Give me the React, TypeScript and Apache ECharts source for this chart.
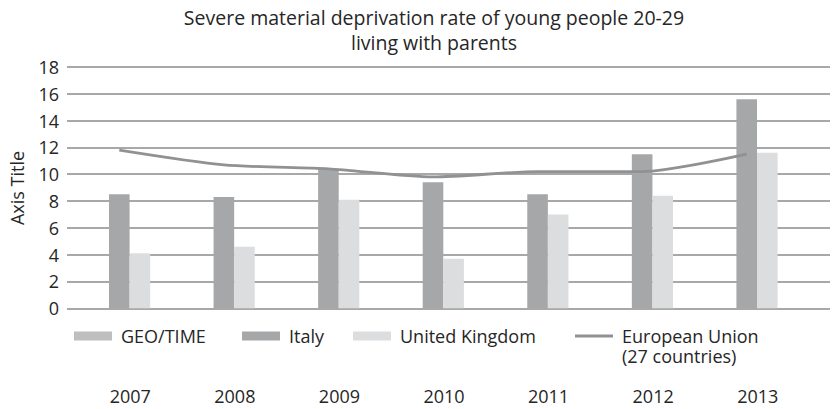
import React, { useEffect, useRef } from "react";
import * as echarts from "echarts";

const years = ["2007", "2008", "2009", "2010", "2011", "2012", "2013"];
const geoTime: (number | null)[] = [null, null, null, null, null, null, null];
const italy = [8.5, 8.3, 10.4, 9.4, 8.5, 11.5, 15.6];
const unitedKingdom = [4.1, 4.6, 8.1, 3.7, 7.0, 8.4, 11.6];
const europeanUnion = [11.8, 10.7, 10.4, 9.8, 10.2, 10.2, 11.5];

const EU_NAME = "European Union (27 countries)";
const FONT = "Open Sans";
const TEXT = "#262626";

const legendText = { fontFamily: FONT, fontSize: 18, color: TEXT, lineHeight: 20, padding: [0, 0, 0, 4] };

// One legend component per entry so each sits at its own x position
const legendAt = (left: number, name: string, extra: Record<string, unknown> = {}) => ({
  left,
  top: 321,
  itemWidth: 38,
  itemHeight: 9,
  icon: "rect",
  textStyle: legendText,
  data: [name],
  ...extra,
});

export default function App() {
  const ref = useRef<HTMLDivElement>(null);

  useEffect(() => {
    if (!ref.current) return;
    const chart = echarts.init(ref.current, undefined, { renderer: "svg" });
    chart.setOption({
      animation: false,
      backgroundColor: "#ffffff",
      textStyle: { fontFamily: FONT, color: TEXT },
      title: {
        text: "Severe material deprivation rate of young people 20-29\nliving with parents",
        left: 429,
        textAlign: "center",
        top: -0.5,
        textStyle: { fontFamily: FONT, fontSize: 19.5, fontWeight: "normal", color: TEXT, lineHeight: 25 },
      },
      legend: [
        legendAt(69, "GEO/TIME"),
        legendAt(237, "Italy"),
        legendAt(348, "United Kingdom"),
        legendAt(570, EU_NAME, {
          top: 301,
          itemHeight: 3,
          // leading blank line keeps the first text line level with the line icon
          formatter: () => " \nEuropean Union\n(27 countries)",
        }),
      ],
      graphic: [
        {
          type: "text",
          x: 17,
          y: 188,
          rotation: Math.PI / 2,
          style: {
            text: "Axis Title",
            fontFamily: FONT,
            fontSize: 18,
            fill: TEXT,
            align: "center",
            verticalAlign: "middle",
          },
        },
      ],
      grid: [
        { left: 67, right: 34, top: 67, bottom: 100.7 },
        { left: 67, right: 3, top: 67, bottom: 100.7 },
      ],
      xAxis: [
        {
          type: "category",
          gridIndex: 0,
          data: years,
          axisLine: { show: false },
          axisTick: { show: false },
          axisLabel: {
            margin: 79,
            fontFamily: FONT,
            fontSize: 18,
            color: TEXT,
            padding: [0, 0, 0, 22],
          },
        },
        { type: "value", gridIndex: 1, min: 0, max: 1, show: false },
      ],
      yAxis: [
        {
          type: "value",
          gridIndex: 0,
          min: 0,
          max: 18,
          interval: 2,
          axisLine: { show: false },
          axisTick: { show: false },
          splitLine: { show: false },
          axisLabel: { margin: 8, fontFamily: FONT, fontSize: 18, color: TEXT },
        },
        {
          type: "value",
          gridIndex: 1,
          min: 0,
          max: 18,
          interval: 2,
          axisLine: { show: false },
          axisTick: { show: false },
          axisLabel: { show: false },
          splitLine: { show: true, lineStyle: { color: "#a8a8a8", width: 1.8 } },
        },
      ],
      series: [
        {
          name: "GEO/TIME",
          type: "bar",
          data: geoTime,
          barWidth: 20.6,
          barGap: "0%",
          itemStyle: { color: "#bdbec0" },
        },
        {
          name: "Italy",
          type: "bar",
          data: italy,
          barWidth: 20.6,
          barGap: "0%",
          itemStyle: { color: "#a6a7a9" },
        },
        {
          name: "United Kingdom",
          type: "bar",
          data: unitedKingdom,
          barWidth: 20.6,
          barGap: "0%",
          itemStyle: { color: "#dcdddf" },
        },
        {
          name: EU_NAME,
          type: "line",
          data: europeanUnion,
          smooth: 0.25,
          showSymbol: false,
          symbol: "none",
          lineStyle: { color: "#909193", width: 2.8 },
          itemStyle: { color: "#909193" },
          z: 5,
        },
      ],
    });
    return () => chart.dispose();
  }, []);

  return <div ref={ref} style={{ width: 833, height: 409, position: "absolute", left: 0, top: 0 }} />;
}
